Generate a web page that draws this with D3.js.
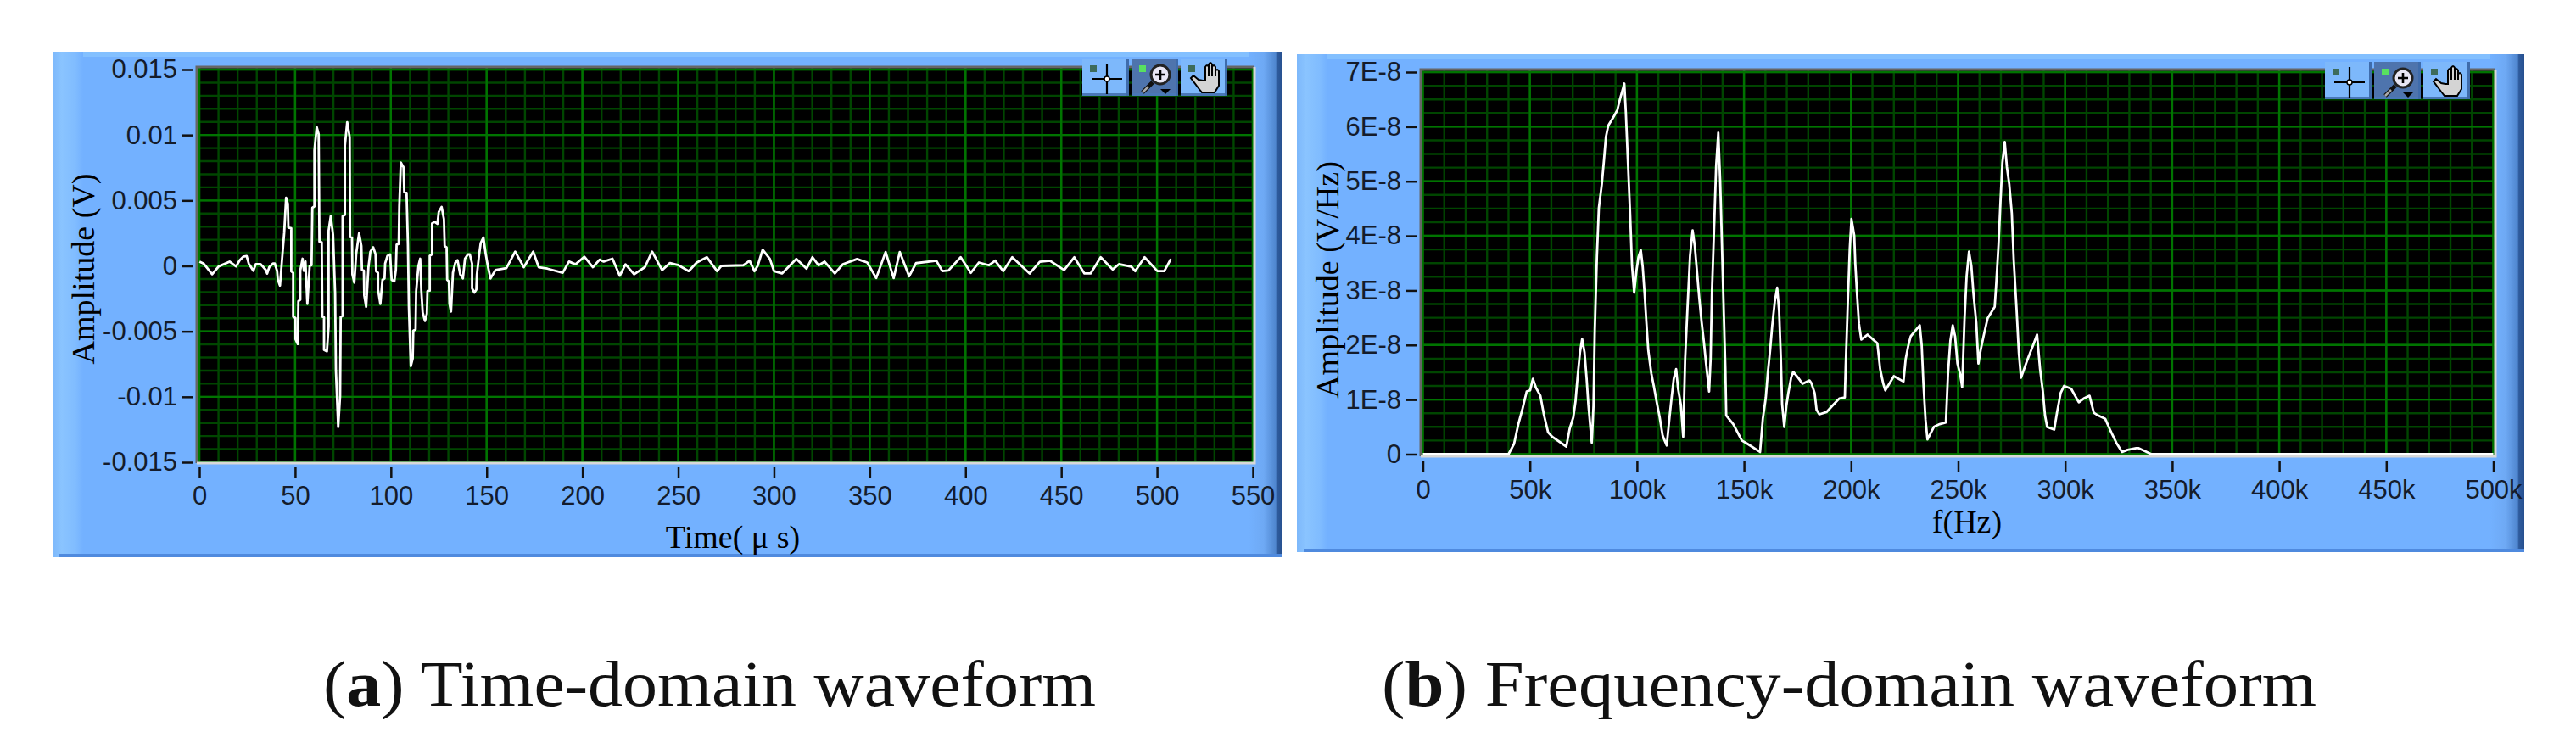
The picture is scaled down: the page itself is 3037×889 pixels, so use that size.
<!DOCTYPE html>
<html>
<head>
<meta charset="utf-8">
<title>Time-domain and frequency-domain waveform</title>
<script src="https://d3js.org/d3.v7.min.js"></script>
<style>
  html, body { margin: 0; padding: 0; background: #fff; }
  svg { display: block; }
  .tick text { font-family: "Liberation Sans", sans-serif; font-size: 31px; fill: #141c2c; }
  .tick line { stroke: #111; stroke-width: 2.5; }
  .title { font-family: "Liberation Serif", serif; font-size: 38px; fill: #000; }
  .caption { font-family: "Liberation Serif", serif; font-size: 76px; fill: #111; }
</style>
</head>
<body>
<svg id="chart" width="3037" height="889"></svg>
<script>
// time-domain waveform, microseconds / millivolts
const timeUs = [0.1,2.2,6.7,10.1,15.8,19.2,21.1,22.9,24.7,25.8,28.2,29.5,32.0,34.7,35.4,36.5,38.4,39.4,40.6,41.0,42.1,43.1,44.3,45.3,46.2,46.5,48.0,48.0,49.0,49.0,50.2,50.2,51.4,51.7,52.7,52.7,53.9,54.6,55.4,56.4,57.6,58.6,59.0,60.1,60.1,61.3,62.3,62.7,63.9,64.2,65.1,65.1,66.6,67.5,67.5,68.6,69.8,70.9,71.3,72.5,73.5,73.8,74.8,74.8,76.0,76.0,77.2,78.5,78.7,79.7,79.9,80.9,81.9,83.4,84.6,84.9,85.9,86.1,87.1,88.3,89.3,90.8,92.0,92.3,93.3,93.3,94.5,95.6,96.7,97.0,98.2,99.6,100.4,101.8,102.6,103.0,104.1,104.4,105.2,106.6,107.0,108.2,108.9,109.4,110.4,111.4,111.7,112.9,113.2,114.4,115.3,115.9,116.6,117.8,118.8,119.1,120.3,120.3,121.5,121.5,122.8,124.3,125.0,126.5,127.7,128.1,129.1,129.4,130.3,130.6,131.4,132.4,133.6,134.8,136.2,137.6,138.7,140.2,141.2,142.4,142.4,143.6,144.6,144.9,146.1,146.9,148.3,149.5,150.6,152.0,154.6,160.3,164.9,169.4,174.3,177.2,181.7,189.7,193,196.4,201,205.5,209,211.1,215.7,219.5,222.5,227,232.6,236.4,241.6,245.7,250.2,255.5,259.7,265,270.3,272.5,284.1,287.3,289.8,291.5,294.1,297.9,300,304.2,311.7,317,320.1,323.3,326.5,331.8,336,343.4,348.7,353.4,358.3,362.5,365.7,370.6,374.2,384.8,387.9,391.1,397.5,402.8,407,412.3,415.5,419.7,424.4,433.5,438.8,444.1,451.5,456.8,462.1,465.3,470.6,476.9,480.1,486.5,488.6,493.5,500.2,503.8,507.2];
const ampMv = [0.33,0.18,-0.64,-0.04,0.33,-0.04,0.44,0.70,0.75,0.18,-0.38,0.14,0.14,-0.31,-0.59,-0.10,0.18,0.18,-0.38,-1.07,-1.50,0.34,2.50,5.20,4.76,2.93,2.88,-0.42,-0.53,-3.88,-3.98,-5.60,-5.97,-2.69,-2.58,-0.36,0.55,-0.38,0.34,-2.90,0.01,0.06,4.44,4.55,8.82,10.6,10.06,1.85,1.80,-3.88,-3.92,-6.42,-6.53,-4.63,2.71,3.79,2.39,-2.15,-7.98,-12.3,-9.92,-3.88,-3.83,3.79,3.90,9.19,10.98,9.84,2.21,2.17,-0.64,-1.28,0.92,2.50,1.52,-0.31,-0.36,-2.26,-3.12,-0.10,1.09,1.42,0.88,-0.42,-0.53,-1.82,-2.90,-1.07,-0.96,0.18,0.77,0.88,-1.07,-1.18,-0.31,1.63,1.68,4.55,7.90,7.53,5.63,5.58,1.63,-3.12,-7.66,-7.07,-4.96,-4.85,-1.93,0.01,0.55,-1.93,-3.55,-4.2,-3.66,-1.93,-1.89,0.77,0.88,3.25,3.36,3.21,4.12,4.51,3.58,1.52,1.42,-1.07,-1.18,-2.90,-3.49,-0.53,0.23,0.44,-0.64,-0.96,0.55,0.88,0.88,0.18,-1.72,-2.04,-1.82,-0.68,0.88,1.74,2.17,0.92,0.01,-0.96,-0.32,-0.17,1.09,-0.10,1.09,-0.10,-0.21,-0.53,0.33,0.12,0.70,-0.10,0.48,0.33,0.55,-0.75,0.12,-0.64,-0.10,1.09,-0.32,0.22,0.05,-0.40,0.26,0.66,-0.40,0,0.05,0.40,-0.40,0,1.24,0.53,-0.40,-0.58,0.53,-0.21,0.66,0.05,0.32,-0.58,0.13,0.53,0.26,-0.93,1.06,-0.93,1.06,-0.79,0.21,0.40,-0.40,-0.35,0.66,-0.53,0.26,0.05,0.40,-0.40,0.66,-0.58,0.32,0.40,-0.32,0.66,-0.58,-0.58,0.66,-0.27,0.13,-0.05,-0.40,0.66,-0.40,-0.40,0.53];
const timeTicks = [0,50,100,150,200,250,300,350,400,450,500,550];
const voltTicks = [-15,-10,-5,0,5,10,15];
const voltLabels = ["-0.015","-0.01","-0.005","0","0.005","0.01","0.015"];

// frequency-domain waveform, kHz / 1E-8 V/Hz
const freqKhz = [0,40.0,42.6,44.6,46.6,48.5,50.1,51.4,52.8,54.9,56.5,58.5,60.4,67.0,68.6,70.3,71.3,72.3,73.4,74.4,75.5,76.5,77.3,78.3,78.9,79.7,80.3,81.3,82.2,83.6,84.6,85.5,86.6,88.8,90.8,92.1,93.2,94.1,94.8,95.8,96.8,97.7,98.7,99.8,100.7,101.8,102.7,103.6,104.4,105.3,106.7,108,109.3,110.6,112,113.9,115.3,116.2,117.2,118.3,119.2,120.5,121.6,122.5,123.6,124.8,126,127,128.1,129.1,130.2,131.2,132.2,133.7,134.4,135,136,137,138,138.9,140.1,141.3,141.7,145,149,151.6,157.5,158.8,160.2,161.1,162.2,163.2,164.4,165.5,166.4,167.2,167.8,168.8,169.8,170.7,172,173,175.3,177.3,180.6,181.5,183,183.9,185.2,188.5,191.8,194.5,197.1,197.5,198.4,199.4,200.2,201.5,202,202.8,203.7,204.8,207.7,212.3,213.6,215,216,220,224.5,225.5,226.8,227.9,232.1,233,233.8,234.8,235.7,238.7,241.4,244.3,245.3,246.4,247.5,248.6,249.7,250.9,251.9,253,254,255.1,256.2,257.2,258.5,259.5,260.5,261.9,263.8,267.1,267.8,268.9,269.8,270.7,271.8,272.8,273.9,275.1,276,277.3,278.4,279.4,282.3,285.4,286.9,288.3,289.6,290.6,291.6,294.9,296.2,297.9,299.5,302.8,306.4,308.7,311.4,313.4,315.4,318.7,321.3,323.9,326.6,329.2,333.2,334.4,340.3,500];
const specE8 = [0,0,.19,.55,.84,1.15,1.17,1.38,1.22,1.07,.73,.40,.32,.14,.47,.68,.97,1.43,1.87,2.11,1.87,1.38,.91,.47,.21,.89,2.26,3.63,4.51,4.95,5.39,5.81,6.02,6.16,6.30,6.51,6.66,6.79,6.27,5.34,4.41,3.45,2.96,3.37,3.61,3.74,3.43,2.93,2.42,1.90,1.48,1.22,.94,.68,.34,.16,.71,1.04,1.38,1.56,1.20,.91,.32,1.74,2.67,3.63,4.10,3.82,3.32,2.86,2.42,2.08,1.69,1.15,1.74,2.93,4.10,5.29,5.89,4.98,3.27,1.56,.71,.55,.25,.19,.04,.65,1.04,1.48,1.90,2.36,2.80,3.05,2.62,1.77,.92,.50,.89,1.12,1.40,1.51,1.40,1.29,1.35,1.30,1.12,.81,.73,.77,.91,1.02,1.04,1.61,2.67,3.76,4.31,4.0,3.48,2.93,2.39,2.10,2.19,2.03,1.56,1.30,1.17,1.43,1.33,1.74,2.0,2.16,2.36,2.0,1.30,.63,.27,.50,.55,.58,1.48,2.08,2.36,2.16,1.66,1.48,1.23,2.47,3.27,3.71,3.45,2.93,2.41,1.66,1.90,2.16,2.49,2.70,3.11,3.84,4.62,5.34,5.72,5.26,4.95,4.41,3.55,2.67,1.85,1.40,1.72,2.03,2.19,1.56,1.15,.71,.50,.45,.76,1.12,1.25,1.20,.95,1.02,1.07,.76,.71,.65,.42,.21,.04,.08,.11,.11,0,0];
const freqTicks = [0,50,100,150,200,250,300,350,400,450,500];
const freqLabels = ["0","50k","100k","150k","200k","250k","300k","350k","400k","450k","500k"];
const specTicks = [0,1,2,3,4,5,6,7];
const specLabels = ["0","1E-8","2E-8","3E-8","4E-8","5E-8","6E-8","7E-8"];

const svg = d3.select("#chart");
const defs = svg.append("defs");

function gradient(id, x2, y2, stops) {
  const g = defs.append("linearGradient").attr("id", id)
    .attr("x1", 0).attr("y1", 0).attr("x2", x2).attr("y2", y2);
  stops.forEach(s => g.append("stop").attr("offset", s[0]).attr("stop-color", s[1]));
}
gradient("leftEdge", 1, 0, [[0, "#7db8fb"], [0.3, "#8ac4ff"], [0.75, "#80bcff"], [1, "#73b1ff"]]);
gradient("rightEdge", 1, 0, [[0, "#73b1ff"], [0.45, "#6ea9f4"], [0.8, "#4f86cf"], [0.84, "#2f5c9e"], [1, "#264f8e"]]);

function panel(cfg) {
  const g = svg.append("g");
  const w = cfg.right - cfg.left, h = cfg.bottom - cfg.top;
  g.append("rect").attr("x", cfg.left).attr("y", cfg.top).attr("width", w).attr("height", h).attr("fill", "#73b1ff");
  g.append("rect").attr("x", cfg.left).attr("y", cfg.top).attr("width", w).attr("height", 6).attr("fill", "#83c0ff");
  g.append("rect").attr("x", cfg.left).attr("y", cfg.top).attr("width", 36).attr("height", h).attr("fill", "url(#leftEdge)");
  g.append("rect").attr("x", cfg.right - 40).attr("y", cfg.top).attr("width", 40).attr("height", h).attr("fill", "url(#rightEdge)");
  g.append("rect").attr("x", cfg.left + 8).attr("y", cfg.bottom - 4).attr("width", w - 8).attr("height", 4).attr("fill", "#4f8ade");

  const p = cfg.plot;
  g.append("rect").attr("x", p.left).attr("y", p.top).attr("width", p.right - p.left).attr("height", p.bottom - p.top).attr("fill", "#000");

  const x = d3.scaleLinear().domain(cfg.xDomain).range(cfg.xRange);
  const y = d3.scaleLinear().domain(cfg.yDomain).range(cfg.yRange);

  const xStep = (cfg.xTicks[1] - cfg.xTicks[0]) / 5;
  const yStep = (cfg.yTicks[1] - cfg.yTicks[0]) / cfg.ySub;
  const xMinor = d3.range(cfg.xDomain[0], cfg.xDomain[1] + xStep / 2, xStep);
  const yMinor = d3.range(cfg.yDomain[0], cfg.yDomain[1] + yStep / 2, yStep);

  const grid = g.append("g");
  grid.selectAll(".xm").data(xMinor).join("line").attr("x1", x).attr("x2", x)
    .attr("y1", p.top).attr("y2", p.bottom).attr("stroke", "#004600").attr("stroke-width", 2.4);
  grid.selectAll(".ym").data(yMinor).join("line").attr("y1", y).attr("y2", y)
    .attr("x1", p.left).attr("x2", p.right).attr("stroke", "#004600").attr("stroke-width", 2.4);
  grid.selectAll(".xj").data(cfg.xTicks).join("line").attr("x1", x).attr("x2", x)
    .attr("y1", p.top).attr("y2", p.bottom).attr("stroke", "#007400").attr("stroke-width", 2.4);
  grid.selectAll(".yj").data(cfg.yTicks).join("line").attr("y1", y).attr("y2", y)
    .attr("x1", p.left).attr("x2", p.right).attr("stroke", "#007400").attr("stroke-width", 2.4);

  // plot frame: dark on top and left, light on bottom and right
  g.append("path").attr("d", `M${p.left},${p.bottom}V${p.top}H${p.right}`).attr("fill", "none").attr("stroke", "#666").attr("stroke-width", 3);
  g.append("path").attr("d", `M${p.left},${p.bottom}H${p.right}V${p.top}`).attr("fill", "none").attr("stroke", "#d8d8d8").attr("stroke-width", 3);

  const line = d3.line().x(d => x(d[0])).y(d => y(d[1]));
  g.append("path").datum(d3.zip(cfg.xValues, cfg.yValues)).attr("d", line)
    .attr("fill", "none").attr("stroke", "#fff").attr("stroke-width", 2.8).attr("stroke-linejoin", "round");

  g.append("g").attr("transform", `translate(0,${cfg.xAxisY})`)
    .call(d3.axisBottom(x).tickValues(cfg.xTicks).tickSize(13).tickPadding(cfg.xPad)
      .tickFormat((d, i) => cfg.xLabels[i]))
    .call(a => a.select(".domain").remove());
  g.append("g").attr("transform", `translate(${cfg.yAxisX},0)`)
    .call(d3.axisLeft(y).tickValues(cfg.yTicks).tickSize(13).tickPadding(6)
      .tickFormat((d, i) => cfg.yLabels[i]))
    .call(a => a.select(".domain").remove());

  g.append("text").attr("class", "title").attr("text-anchor", "middle")
    .attr("x", cfg.xTitle[0]).attr("y", cfg.xTitle[1]).text(cfg.xTitleText);
  g.append("text").attr("class", "title").attr("text-anchor", "middle")
    .attr("transform", `translate(${cfg.yTitle[0]},${cfg.yTitle[1]}) rotate(-90)`).text(cfg.yTitleText);

  toolbar(g, cfg.toolbar[0], cfg.toolbar[1]);
}

// the three palette buttons in the corner of the graph
function toolbar(parent, ox, oy) {
  const g = parent.append("g").attr("transform", `translate(${ox},${oy})`);
  [[0, "#7db8fb"], [58, "#4e74ad"], [116, "#7db8fb"]].forEach(b => {
    g.append("rect").attr("x", b[0]).attr("y", 0).attr("width", 55).attr("height", 44).attr("fill", b[1]);
    g.append("rect").attr("x", b[0]).attr("y", 41).attr("width", 55).attr("height", 3).attr("fill", "#4a78b8");
    g.append("rect").attr("x", b[0] + 52).attr("y", 0).attr("width", 3).attr("height", 44).attr("fill", "#3f6cab");
  });
  // leds
  g.append("rect").attr("x", 9).attr("y", 8).attr("width", 8).attr("height", 8).attr("fill", "#3d6b5a");
  g.append("rect").attr("x", 67).attr("y", 8).attr("width", 8).attr("height", 8).attr("fill", "#58e060");
  g.append("rect").attr("x", 125).attr("y", 8).attr("width", 8).attr("height", 8).attr("fill", "#3d6b5a");
  // crosshair
  g.append("path").attr("d", "M11,24H47M29,6V42").attr("stroke", "#000").attr("stroke-width", 2.2);
  g.append("circle").attr("cx", 29).attr("cy", 24).attr("r", 3).attr("fill", "#fff").attr("stroke", "#000").attr("stroke-width", 1.5);
  // zoom glass
  g.append("circle").attr("cx", 92).attr("cy", 19).attr("r", 11).attr("fill", "#e8e6f4").attr("stroke", "#222").attr("stroke-width", 3);
  g.append("path").attr("d", "M92,13V25M86,19H98").attr("stroke", "#000").attr("stroke-width", 2.6);
  g.append("path").attr("d", "M83,28L71,40").attr("stroke", "#111").attr("stroke-width", 5);
  g.append("path").attr("d", "M71,40L78,33").attr("stroke", "#aaa").attr("stroke-width", 2.5);
  g.append("path").attr("d", "M92,36H104L98,42Z").attr("fill", "#000");
  // hand
  g.append("path").attr("transform", "translate(-6,-1)")
    .attr("d", "M143,26L137,21L134,24L143,36L147,41H162L167,33V16Q165,12 163,16V22V11Q161,7 159,11V22V8Q157,4 155,8V22V11Q153,7 151,11V27L148,27Z")
    .attr("fill", "#d4d4d4").attr("stroke", "#000").attr("stroke-width", 2);
}

panel({
  left: 62, right: 1512, top: 61, bottom: 657,
  plot: { left: 232, right: 1479, top: 79, bottom: 546 },
  xDomain: [0, 550], xRange: [235, 1477],
  yDomain: [-15, 15], yRange: [545, 82],
  xTicks: timeTicks, xLabels: timeTicks.map(String),
  yTicks: voltTicks, yLabels: voltLabels, ySub: 5,
  xValues: timeUs, yValues: ampMv,
  xAxisY: 551, xPad: 9, yAxisX: 228,
  xTitle: [864, 646], xTitleText: "Time( \u03bc s)",
  yTitle: [111, 317], yTitleText: "Amplitude (V)",
  toolbar: [1276, 69]
});

panel({
  left: 1529, right: 2976, top: 64, bottom: 651,
  plot: { left: 1675, right: 2942, top: 82, bottom: 538 },
  xDomain: [0, 500], xRange: [1677.5, 2939.5],
  yDomain: [0, 7], yRange: [535.5, 85],
  xTicks: freqTicks, xLabels: freqLabels,
  yTicks: specTicks, yLabels: specLabels, ySub: 4,
  xValues: freqKhz, yValues: specE8,
  xAxisY: 543, xPad: 10, yAxisX: 1671,
  xTitle: [2319, 628], xTitleText: "f(Hz)",
  yTitle: [1578, 330], yTitleText: "Amplitude (V/Hz)",
  toolbar: [2741, 73]
});

function caption(x, letter, rest, len) {
  const t = svg.append("text").attr("class", "caption").attr("x", x).attr("y", 832)
    .attr("textLength", len).attr("lengthAdjust", "spacingAndGlyphs");
  t.append("tspan").text("(");
  t.append("tspan").attr("font-weight", "bold").text(letter);
  t.append("tspan").text(") " + rest);
}
caption(381, "a", "Time-domain waveform", 911);
caption(1629, "b", "Frequency-domain waveform", 1102);
</script>
</body>
</html>
